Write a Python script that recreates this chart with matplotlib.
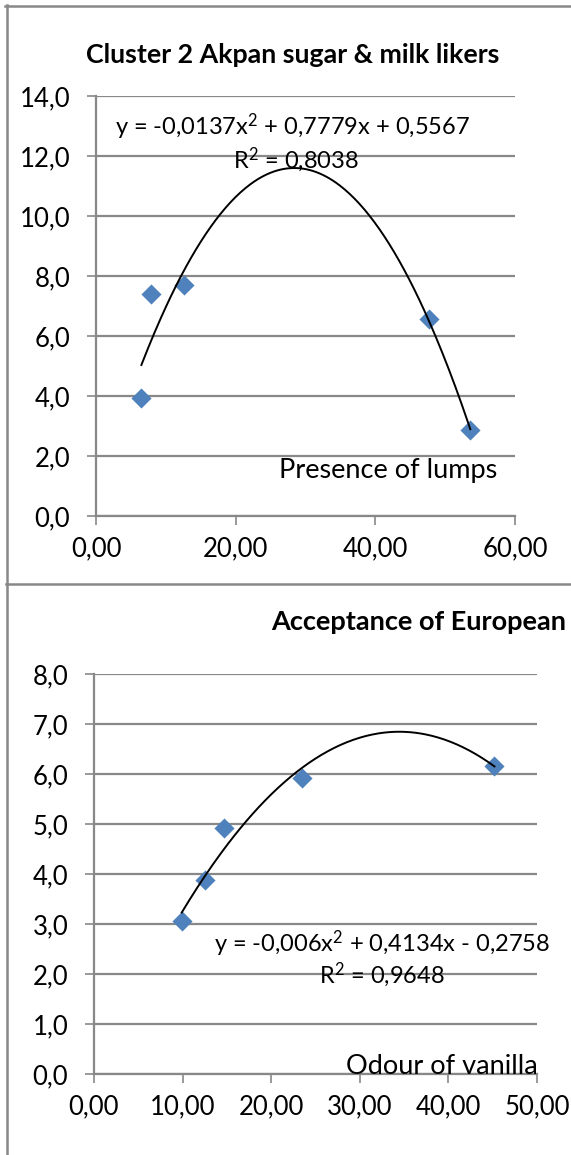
import numpy as np
import matplotlib
matplotlib.use('Agg')
import matplotlib.pyplot as plt
from matplotlib.lines import Line2D
from matplotlib.ticker import FuncFormatter, MultipleLocator

plt.rcParams['font.family'] = ['Lato', 'DejaVu Sans']
plt.rcParams['mathtext.fontset'] = 'custom'
plt.rcParams['mathtext.rm'] = 'Lato'
plt.rcParams['mathtext.default'] = 'regular'

# top chart: presence of lumps
lumps_x = [6.5, 7.9, 12.6, 47.7, 53.6]
lumps_y = [3.93, 7.40, 7.71, 6.56, 2.88]
lumps_coef = [-0.0137, 0.7779, 0.5567]
lumps_eq = 'y = -0,0137x$^2$ + 0,7779x + 0,5567'
lumps_r2 = 'R$^2$ = 0,8038'

# bottom chart: odour of vanilla
van_x = [9.9, 12.5, 14.7, 23.45, 45.2]
van_y = [3.06, 3.88, 4.93, 5.93, 6.16]
van_coef = [-0.006, 0.4134, -0.2758]
van_eq = 'y = -0,006x$^2$ + 0,4134x - 0,2758'
van_r2 = 'R$^2$ = 0,9648'

W, H = 571, 1155
fig = plt.figure(figsize=(W / 100, H / 100), dpi=100)

GRAY = '#888888'
BLUE = '#4f81bd'
FS = 17
TICK_FS = 18.5
LABEL_FS = 19.5


def px_axes(l, t, r, b):
    return fig.add_axes([l / W, 1 - b / H, (r - l) / W, (b - t) / H])


def comma(fmt):
    return FuncFormatter(lambda v, p: (fmt % v).replace('.', ','))


def style(ax, xmax, xstep, ymax, ystep):
    ax.set_xlim(0, xmax)
    ax.set_ylim(0, ymax)
    ax.xaxis.set_major_locator(MultipleLocator(xstep))
    ax.yaxis.set_major_locator(MultipleLocator(ystep))
    ax.xaxis.set_major_formatter(comma('%.2f'))
    ax.yaxis.set_major_formatter(comma('%.1f'))
    for s in ['top', 'right']:
        ax.spines[s].set_visible(False)
    for s in ['left', 'bottom']:
        ax.spines[s].set_color(GRAY)
        ax.spines[s].set_linewidth(1.6)
    ax.yaxis.grid(True, color=GRAY, linewidth=1.6)
    ax.set_axisbelow(True)
    ax.tick_params(axis='both', direction='out', length=6.5, width=1.2,
                   color=GRAY, labelsize=TICK_FS, labelcolor='black')
    ax.tick_params(axis='y', pad=12)
    ax.tick_params(axis='x', pad=8)


def draw(ax, xs, ys, coef):
    ax.scatter(xs, ys, marker='D', s=105, color=BLUE, zorder=3, linewidths=0)
    xx = np.linspace(min(xs), max(xs), 200)
    ax.plot(xx, np.polyval(coef, xx), color='black', linewidth=1.4, zorder=4)


# top panel
ax1 = px_axes(96, 96, 515, 516)
style(ax1, 60, 20, 14, 2)
draw(ax1, lumps_x, lumps_y, lumps_coef)
ax1.text(28.1, 12.97, lumps_eq, ha='center', va='center', fontsize=FS, zorder=5)
ax1.text(28.6, 11.87, lumps_r2, ha='center', va='center', fontsize=FS, zorder=5)
ax1.text(57.4, 1.5, 'Presence of lumps', ha='right', va='center', fontsize=LABEL_FS)
fig.text(293 / W, 1 - 63 / H, 'Cluster 2 Akpan sugar & milk likers',
         ha='center', va='baseline', fontsize=19.3, fontweight='bold')

# bottom panel
ax2 = px_axes(94, 674, 537, 1074)
style(ax2, 50, 10, 8, 1)
draw(ax2, van_x, van_y, van_coef)
ax2.text(32.5, 2.6, van_eq, ha='center', va='center', fontsize=FS, zorder=5)
ax2.text(32.5, 1.98, van_r2, ha='center', va='center', fontsize=FS, zorder=5)
ax2.text(50.1, 0.16, 'Odour of vanilla', ha='right', va='center', fontsize=LABEL_FS, zorder=5)
fig.text(271 / W, 1 - 630 / H, 'Acceptance of European',
         ha='left', va='baseline', fontsize=19.5, fontweight='bold')

# chart frames
for xs, ys in [([5, W], [6, 6]), ([7, 7], [5, H]), ([6, W], [584, 584])]:
    fig.add_artist(Line2D([x / W for x in xs], [1 - y / H for y in ys],
                          color=GRAY, linewidth=1.8))

fig.savefig('out.png', dpi=100)
